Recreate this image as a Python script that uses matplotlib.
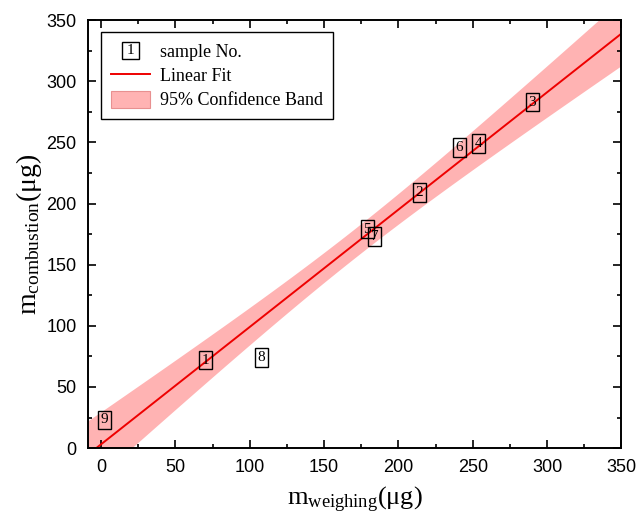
import matplotlib.pyplot as plt
import numpy as np
from matplotlib.legend_handler import HandlerBase
from matplotlib.patches import Rectangle, Patch
from matplotlib.lines import Line2D
from matplotlib.text import Text

plt.rcParams['mathtext.fontset'] = 'custom'
plt.rcParams['mathtext.rm'] = 'Liberation Serif'
plt.rcParams['mathtext.it'] = 'Liberation Serif'

# sample data
sample_no = ['1', '2', '3', '4', '5', '6', '7', '8', '9']
m_weighing = [70, 214, 290, 254, 179, 241, 184, 108, 2]
m_combustion = [72, 209, 283, 249, 179, 246, 173, 74, 23]


class BoxedNumberHandler(HandlerBase):
    def create_artists(self, legend, orig_handle, xdescent, ydescent,
                       width, height, fontsize, trans):
        cx = width / 2 - xdescent
        cy = height / 2 - ydescent
        s = 0.95 * fontsize
        r = Rectangle((cx - s / 2, cy - s / 2), s, s, facecolor='white',
                      edgecolor='black', lw=1.0, transform=trans)
        t = Text(cx, cy, '1', ha='center', va='center', fontsize=fontsize * 0.85,
                 family='Liberation Serif', transform=trans)
        return [r, t]


x = np.array(m_weighing, dtype=float)
y = np.array(m_combustion, dtype=float)
n = len(x)
slope, intercept = np.polyfit(x, y, 1)
resid = y - (slope * x + intercept)
s_err = np.sqrt(np.sum(resid ** 2) / (n - 2))
t_val = 2.365  # t(0.975, 7)
xs = np.linspace(-20, 370, 200)
ys = slope * xs + intercept
ci = t_val * s_err * np.sqrt(1 / n + (xs - x.mean()) ** 2 / np.sum((x - x.mean()) ** 2))

fig = plt.figure(figsize=(6.36, 5.18), dpi=100)
ax = fig.add_axes([0.138, 0.135, 0.839, 0.826])

ax.fill_between(xs, ys - ci, ys + ci, color='#ffb3b3', lw=0, zorder=1)
ax.plot(xs, ys, color='#ee0000', lw=1.4, zorder=2)

for lab, xi, yi in zip(sample_no, m_weighing, m_combustion):
    ax.text(xi, yi, lab, ha='center', va='center', fontsize=11,
            family='Liberation Serif', zorder=3,
            bbox=dict(boxstyle='square,pad=0.18', fc='none', ec='black', lw=1.0))

ax.set_xlim(-9, 350)
ax.set_ylim(0, 350)
ax.set_xticks(np.arange(0, 351, 50))
ax.set_yticks(np.arange(0, 351, 50))
ax.set_xticks(np.arange(25, 351, 50), minor=True)
ax.set_yticks(np.arange(25, 351, 50), minor=True)
ax.tick_params(which='both', direction='in', top=True, right=True, width=1.2)
ax.tick_params(which='major', length=6, labelsize=13, pad=8)
ax.tick_params(which='minor', length=3)
for lbl in ax.get_xticklabels() + ax.get_yticklabels():
    lbl.set_family('Liberation Sans')
for sp in ax.spines.values():
    sp.set_linewidth(1.4)

ax.set_xlabel(r'm$_{\mathrm{weighing}}$(μg)', fontsize=19, family='Liberation Serif', labelpad=6)
ax.set_ylabel(r'm$_{\mathrm{combustion}}$(μg)', fontsize=20, family='Liberation Serif', labelpad=2)

handles = [object(),
           Line2D([], [], color='#ee0000', lw=1.4),
           Patch(facecolor='#ffb3b3', edgecolor='#e89090', lw=0.8)]
labels = ['sample No.', 'Linear Fit', '95% Confidence Band']
leg = ax.legend(handles, labels, loc='upper left', bbox_to_anchor=(0.024, 0.972),
                handler_map={object: BoxedNumberHandler()},
                prop={'family': 'Liberation Serif', 'size': 13},
                fancybox=False, edgecolor='black', framealpha=1,
                handlelength=2.2, handleheight=1.1, handletextpad=0.55,
                labelspacing=0.3, borderpad=0.55, borderaxespad=0)
leg.get_frame().set_linewidth(1.0)

fig.savefig('out.png', dpi=100)
